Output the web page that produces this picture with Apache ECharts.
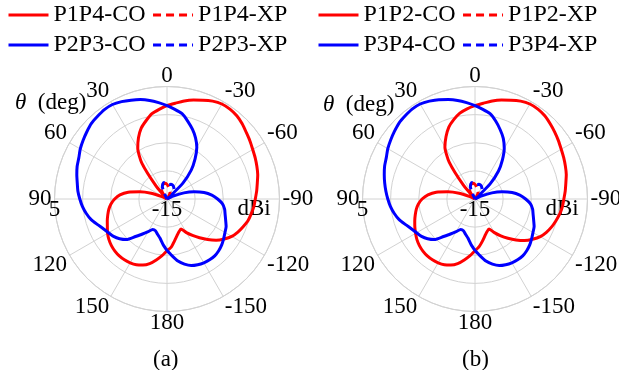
<!DOCTYPE html>
<html><head><meta charset="utf-8">
<script src="https://cdn.jsdelivr.net/npm/echarts@6/dist/echarts.min.js"></script>
<style>html,body{margin:0;padding:0;background:#fff}#c{width:619px;height:370px}</style>
</head><body><div id="c"></div>
<script>
// display angle theta (deg, 0 at top, positive counter-clockwise), gain in dBi
const THETA = [-180,-175,-170,-165,-160,-155,-150,-145,-140,-135,-130,-125,-120,-115,-110,-105,-100,-95,-90,-85,-80,-75,-70,-65,-60,-55,-50,-45,-40,-35,-30,-25,-20,-15,-10,-5,0,5,10,15,20,25,30,35,40,45,50,55,60,65,70,75,80,85,90,95,100,105,110,115,120,125,130,135,140,145,150,155,160,165,170,175,180];

// (a)
const P1P4_CO = [-5.8,-6.4,-7.4,-8.2,-8.8,-9.1,-8.1,-7.1,-6.0,-4.8,-3.6,-2.6,-1.7,-1.1,-0.6,-0.1,0.2,0.5,0.7,1.0,1.3,1.7,2.0,2.3,2.6,3.0,3.4,3.9,4.3,4.5,4.5,4.2,3.7,3.2,2.7,2.1,1.6,1.0,0.4,-0.6,-1.6,-3.0,-4.6,-7.2,-12.0,-15,-15,-15,-15,-14,-12,-10,-8,-6.6,-5.7,-5.0,-4.5,-4.1,-3.7,-3.3,-2.8,-2.4,-2.1,-1.9,-1.8,-1.8,-1.9,-2.1,-2.5,-3.1,-4.0,-4.9,-5.8];
const P2P3_CO = [-5.85,-4.9,-3.8,-3.0,-2.4,-2.1,-1.9,-1.8,-1.8,-2.0,-2.3,-2.7,-3.1,-3.4,-3.9,-4.3,-4.6,-5.1,-6.0,-7.0,-8.3,-10.0,-11.8,-13.8,-15,-15,-14.5,-11,-8.3,-6.3,-4.4,-3.0,-1.8,-0.7,0.4,1.0,1.6,2.2,2.8,3.3,3.7,4.1,4.4,4.4,4.2,4.0,3.6,3.2,2.8,2.3,2.0,1.6,1.2,0.9,0.5,0.1,-0.4,-1.0,-1.8,-2.5,-3.0,-3.4,-4.0,-4.8,-6.3,-7.4,-8.3,-9.0,-9.0,-8.5,-7.9,-6.9,-5.85];
// (b)
const P1P2_CO = [-5.8,-6.5,-7.4,-8.2,-8.8,-9.1,-8.1,-7.0,-5.9,-4.7,-3.5,-2.5,-1.6,-1.0,-0.5,-0.1,0.3,0.6,0.8,1.1,1.4,1.8,2.1,2.4,2.7,3.1,3.5,3.9,4.3,4.5,4.5,4.2,3.7,3.2,2.7,2.1,1.6,1.1,0.5,-0.4,-1.4,-2.8,-4.3,-7.0,-11.8,-15,-15,-15,-15,-14,-12,-10,-8,-6.6,-5.6,-4.9,-4.4,-4.0,-3.6,-3.2,-2.8,-2.4,-2.1,-1.9,-1.8,-1.8,-1.9,-2.1,-2.5,-3.1,-4.0,-4.9,-5.8];
const P3P4_CO = [-5.85,-4.9,-3.8,-3.0,-2.4,-2.1,-1.9,-1.8,-1.8,-2.0,-2.3,-2.7,-3.1,-3.4,-3.9,-4.3,-4.6,-5.1,-6.0,-7.0,-8.3,-10.0,-11.8,-13.8,-15,-15,-14.5,-11.2,-8.5,-6.5,-4.6,-3.1,-1.9,-0.7,0.4,1.0,1.6,2.2,2.8,3.3,3.8,4.2,4.5,4.5,4.3,4.1,3.7,3.3,2.9,2.4,2.1,1.7,1.3,0.9,0.5,0.1,-0.4,-1.0,-1.8,-2.5,-3.0,-3.4,-4.0,-4.8,-6.3,-7.4,-8.3,-9.0,-9.0,-8.5,-7.9,-6.9,-5.85];

// cross-polar (only the part above -15 dBi)
const RED_XP_THETA = [-35,-30,-25,-20,-15,-10,-5,0,5,10,15,20,25,30,35,40,45];
const P1P4_XP = [-15,-14.2,-13.7,-13.5,-13.3,-13.0,-12.7,-12.4,-12.2,-12.2,-12.3,-12.5,-12.7,-13.0,-13.6,-14.5,-15];
const P1P2_XP = [-15,-14.2,-13.7,-13.5,-13.3,-13.0,-12.7,-12.4,-12.2,-12.2,-12.3,-12.5,-12.7,-13.0,-13.6,-14.5,-15];
const BLUE_XP_THETA = [-60,-55,-50,-45,-40,-35,-30,-25,-20,-15,-10,-5,0,5,10,15,20,25,30];
const P2P3_XP = [-15,-14.5,-13.8,-13.3,-13.0,-12.8,-12.6,-12.4,-12.3,-12.3,-12.4,-12.4,-12.3,-12.1,-12.0,-12.2,-12.6,-13.5,-15];
const P3P4_XP = [-15,-14.5,-13.8,-13.3,-13.0,-12.8,-12.6,-12.4,-12.3,-12.3,-12.4,-12.4,-12.3,-12.1,-12.0,-12.2,-12.6,-13.5,-15];

// tick labels of the angle axis (axis value u = 0,30,...,330 ; u = theta - 90)
const ANGLE_LABELS = ['90','120','150','180','-150','-120','-90','-60','-30','0','30','60'];
const RADIUS_LABELS = ['-15','5'];

// region annotations
const ANNOT_TEXT = ['II','I'];
const ANNOT_THETA = [49,-49];
const ANNOT_GAIN = [-2.4,-2.4];

const FONT = 'Liberation Serif';
const RED = '#ff0000', BLUE = '#0000ff', GRID = '#d2d2d2';

function toU(t){ return ((t - 90) % 360 + 360) % 360; }
function pts(th, g){ return th.map((t,i)=>[g[i], toU(t)]); }

function angleAxis(pi){
  return {polarIndex:pi, type:'value', min:0, max:360, interval:30, startAngle:180, clockwise:false,
    axisLine:{show:true, lineStyle:{color:GRID, width:1}},
    axisTick:{show:false},
    splitLine:{show:true, lineStyle:{color:GRID, width:1}},
    axisLabel:{margin:3, fontSize:23, lineHeight:16, color:'#000', fontFamily:FONT,
      formatter: v => { const s = ANGLE_LABELS[Math.round(v/30)]; return (v < 360 && s) ? s : ''; }}
  };
}
function radiusAxis(pi){
  return {polarIndex:pi, type:'value', min:-15, max:5, interval:5,
    axisLine:{show:false}, axisTick:{show:false},
    splitLine:{show:true, lineStyle:{color:GRID, width:1}},
    axisLabel:{show:true, margin:2, fontSize:23, lineHeight:17, color:'#000', fontFamily:FONT,
      formatter: v => RADIUS_LABELS.indexOf(String(v)) >= 0 ? String(v) : ''},
    name:'dBi', nameLocation:'start', nameGap:87,
    nameTextStyle:{fontSize:23, lineHeight:20, color:'#000', fontFamily:FONT, align:'center', verticalAlign:'top'}
  };
}
function line(name, pi, th, g, color, dashed){
  return {name, type:'line', coordinateSystem:'polar', polarIndex:pi, data:pts(th,g),
    symbol:'none', showSymbol:false, smooth:0.2, animation:false,
    lineStyle:{color, width:3, type: dashed ? [8,5] : 'solid'}, itemStyle:{color}, z:3};
}
function annot(pi){
  return {type:'scatter', coordinateSystem:'polar', polarIndex:pi, symbolSize:1, silent:true,
    itemStyle:{opacity:0}, animation:false,
    data: ANNOT_TEXT.map((s,i)=>({name:s, value:[ANNOT_GAIN[i], toU(ANNOT_THETA[i])]})),
    label:{show:true, position:'inside', formatter:'{b}', fontSize:23, fontWeight:'bold', color:'#000', fontFamily:FONT}};
}
const legendBase = {orient:'horizontal', itemWidth:40, itemHeight:14, itemGap:6, padding:0, selectedMode:false,
  itemStyle:{opacity:0, borderWidth:0},
  lineStyle:{width:3},
  textStyle:{fontSize:24, color:'#000', fontFamily:FONT}};

const chart = echarts.init(document.getElementById('c'), null, {renderer:'canvas'});
chart.setOption({
  animation:false,
  backgroundColor:'#fff',
  title:[
    {text:'{i|θ}  (deg)', left:10, top:86, textStyle:{fontSize:23, fontWeight:'normal', color:'#000', fontFamily:FONT, rich:{i:{fontStyle:'italic', fontSize:23, fontFamily:FONT, color:'#000'}}}},
    {text:'{i|θ}  (deg)', left:318, top:88, textStyle:{fontSize:23, fontWeight:'normal', color:'#000', fontFamily:FONT, rich:{i:{fontStyle:'italic', fontSize:23, fontFamily:FONT, color:'#000'}}}},
    {text:'(a)', left:148, top:343, textStyle:{fontSize:23, fontWeight:'normal', color:'#000', fontFamily:FONT}},
    {text:'(b)', left:457, top:343, textStyle:{fontSize:23, fontWeight:'normal', color:'#000', fontFamily:FONT}}
  ],
  legend:[
    Object.assign({data:['P1P4-CO','P1P4-XP'], left:7, top:3}, legendBase),
    Object.assign({data:['P2P3-CO','P2P3-XP'], left:7, top:33}, legendBase),
    Object.assign({data:['P1P2-CO','P1P2-XP'], left:317, top:3}, legendBase),
    Object.assign({data:['P3P4-CO','P3P4-XP'], left:317, top:33}, legendBase)
  ],
  polar:[{center:[167,199], radius:112.5},{center:[475,199], radius:112.5}],
  angleAxis:[angleAxis(0), angleAxis(1)],
  radiusAxis:[radiusAxis(0), radiusAxis(1)],
  series:[
    line('P1P4-CO',0,THETA,P1P4_CO,RED,false),
    line('P2P3-CO',0,THETA,P2P3_CO,BLUE,false),
    line('P1P4-XP',0,RED_XP_THETA,P1P4_XP,RED,true),
    line('P2P3-XP',0,BLUE_XP_THETA,P2P3_XP,BLUE,true),
    line('P1P2-CO',1,THETA,P1P2_CO,RED,false),
    line('P3P4-CO',1,THETA,P3P4_CO,BLUE,false),
    line('P1P2-XP',1,RED_XP_THETA,P1P2_XP,RED,true),
    line('P3P4-XP',1,BLUE_XP_THETA,P3P4_XP,BLUE,true),
    annot(0), annot(1)
  ]
});
</script></body></html>
